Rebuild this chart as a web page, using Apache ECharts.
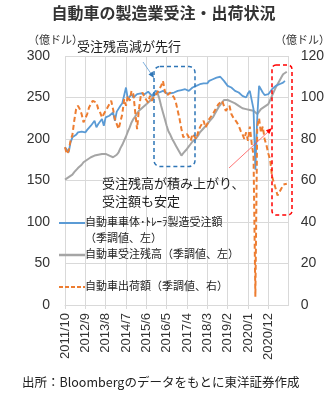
<!DOCTYPE html>
<html><head><meta charset="utf-8">
<script src="https://cdn.jsdelivr.net/npm/echarts@6/dist/echarts.min.js"></script>
<style>html,body{margin:0;padding:0;background:#fff}#c{width:327px;height:396px}</style>
</head><body><div id="c"></div>
<script>
// categories: monthly 2011/10 .. 2021/11
const startYear = 2011, startMonth = 10, monthCount = 122;
const categories = [];
for (let i = 0; i < monthCount; i++) {
  const t = startMonth - 1 + i;
  categories.push((startYear + Math.floor(t / 12)) + '/' + (t % 12 + 1));
}
const leftTicks = [0, 50, 100, 150, 200, 250, 300];
const rightTicks = [0, 20, 40, 60, 80, 100, 120];

// 自動車車体・トレーラ製造受注額 (億ドル, left)
const orders = [190,188,184,196,202,200,205,208,207,209,210,208,211,212,216,219,222,214,218,221,
224,216,226,225,228,230,232,222,233,234,240,243,244,262,248,250,254,250,251,254,
256,255,253,254,256,257,258,252,255,258,256,256,257,258,257,255,256,255,256,256,
257,258,258,259,260,260,259,258,260,262,263,264,265,266,265,267,268,267,270,271,
272,272,274,276,275,274,270,267,264,263,262,261,258,257,256,254,252,251,250,255,
258,260,236,163,225,264,260,256,253,252,254,257,260,262,264,265,266,268,268,270,null,null];

// 自動車受注残高 (億ドル, left)
const backlog = [151,152,154,155,157,160,162,165,167,169,172,173,175,177,178,179,180,180,181,182,
182,182,182,181,180,179,178,179,181,184,189,193,198,203,209,214,220,224,227,231,
234,236,238,240,242,244,246,249,252,254,256,249,240,232,224,216,209,205,200,196,
192,188,184,180,183,185,188,191,194,197,199,201,204,208,210,213,215,218,221,223,
226,230,234,238,241,244,247,248,247,246,245,244,243,241,240,238,237,236,236,236,
235,235,234,232,230,233,236,238,239,240,242,247,252,257,262,266,270,274,278,280,281,null];

// 自動車出荷額 (億ドル, right)
const shipments = [76,72.8,74.4,79.2,82,88.8,94.4,96,94.4,92,88,88.8,92,95.2,96.8,98.4,98,97.6,94.4,92.8,
90.4,92,91.2,95.2,96.8,98.4,94.4,89.6,87.2,84.8,84,92,99.2,96,100.8,98.4,103.2,101.6,92.8,84.8,
94.4,100.8,102.4,100,98.8,97.6,100.8,98.4,100,99.2,102.4,103.2,105.6,108,103.2,100.8,100,102.4,102,100,
97.6,93.6,89.6,84.8,80.8,80,82.4,80.8,79.2,82.4,81.6,80,83.2,85.6,87.2,88.8,85.6,87.2,89.6,88.8,
92,93.6,95.2,96.8,97.6,98.4,99.2,93.6,93.6,96,92,90.4,89.6,88,86.4,84,82.4,80,83.2,79.2,
86,78,72,4,86,90,83,86,80,77,73,70,62,59,56,52.8,54.4,56,58,57.6,58.4,null];

const jp = '"Noto Sans CJK JP", sans-serif';
const num = '"Liberation Sans", Arial, sans-serif';
const labelIdx = (i) => i % 11 === 0 && i <= 110;

const chart = echarts.init(document.getElementById('c'), null, {renderer: 'canvas'});
chart.setOption({
  animation: false,
  backgroundColor: '#fff',
  grid: {left: 65, right: 36, top: 56, bottom: 91, containLabel: false},
  xAxis: {
    type: 'category', data: categories, boundaryGap: false,
    axisLine: {show: true, lineStyle: {color: '#d9d9d9', width: 1}},
    axisTick: {show: true, interval: labelIdx, length: 4, lineStyle: {color: '#d9d9d9'}},
    axisLabel: {interval: labelIdx, rotate: 90, margin: 8, fontSize: 13, color: '#333', fontFamily: num},
    splitLine: {show: true, interval: (i) => i % 11 === 0, lineStyle: {color: '#d9d9d9', width: 1}}
  },
  yAxis: [
    {type: 'value', min: leftTicks[0], max: leftTicks[leftTicks.length - 1], interval: 50,
     axisLine: {show: false}, axisTick: {show: false},
     axisLabel: {fontSize: 14, color: '#333', margin: 15, fontFamily: num},
     splitLine: {show: true, lineStyle: {color: '#d9d9d9', width: 1}}},
    {type: 'value', min: rightTicks[0], max: rightTicks[rightTicks.length - 1], interval: 20,
     axisLine: {show: false}, axisTick: {show: false},
     axisLabel: {fontSize: 14, color: '#333', margin: 12, fontFamily: num},
     splitLine: {show: false}}
  ],
  series: [
    {name: '自動車車体･ﾄﾚｰﾗ製造受注額', type: 'line', data: orders, yAxisIndex: 0,
     showSymbol: false, symbol: 'none', lineStyle: {color: '#5b9bd5', width: 1.8}, z: 3},
    {name: '自動車受注残高', type: 'line', data: backlog, yAxisIndex: 0,
     showSymbol: false, symbol: 'none', lineStyle: {color: '#a5a5a5', width: 2}, z: 2},
    {name: '自動車出荷額', type: 'line', data: shipments, yAxisIndex: 1,
     showSymbol: false, symbol: 'none', lineStyle: {color: '#ed7d31', width: 2, type: [5, 3]}, z: 4}
  ],
  graphic: [
    {type: 'text', left: 'center', top: 5, style: {text: '自動車の製造業受注・出荷状況', font: 'bold 16px ' + jp, fill: '#333'}},
    {type: 'text', x: 28, y: 34, style: {text: '（億ドル）', font: '11px ' + jp, fill: '#333'}},
    {type: 'text', x: 275, y: 34, style: {text: '（億ドル）', font: '11px ' + jp, fill: '#333'}},
    {type: 'text', x: 77, y: 40, z: 10, style: {text: '受注残高減が先行', font: '13px ' + jp, fill: '#222'}},
    {type: 'text', x: 102, y: 174, z: 10, style: {text: '受注残高が積み上がり、\n受注額も安定', font: '13px ' + jp, fill: '#222', lineHeight: 18}},
    {type: 'rect', z: 10, shape: {x: 154, y: 66.5, width: 41, height: 100, r: 6},
     style: {fill: 'none', stroke: '#2e75b6', lineWidth: 1.5, lineDash: [4, 3]}},
    {type: 'rect', z: 10, shape: {x: 272, y: 65, width: 20, height: 150, r: 4},
     style: {fill: 'none', stroke: '#ff0000', lineWidth: 1.5, lineDash: [4, 3]}},
    {type: 'line', z: 10, shape: {x1: 143, y1: 62, x2: 152, y2: 75}, style: {stroke: '#5b9bd5', lineWidth: 0.8}},
    {type: 'polygon', z: 10, shape: {points: [[154, 78], [148.5, 74.5], [152.7, 71.6]]}, style: {fill: '#2e75b6'}},
    {type: 'line', z: 10, shape: {x1: 229, y1: 168, x2: 269, y2: 131}, style: {stroke: '#ff5050', lineWidth: 0.8}},
    {type: 'polygon', z: 10, shape: {points: [[272, 128], [269.3, 133.9], [265.9, 130.3]]}, style: {fill: '#ff0000'}},
    {type: 'line', z: 10, shape: {x1: 59, y1: 223, x2: 85, y2: 223}, style: {stroke: '#5b9bd5', lineWidth: 2}},
    {type: 'text', x: 85, y: 216, z: 10, style: {text: '自動車車体･ﾄﾚｰﾗ製造受注額', font: '11px ' + jp, fill: '#222'}},
    {type: 'text', x: 85, y: 232, z: 10, style: {text: '（季調値、左）', font: '11px ' + jp, fill: '#222'}},
    {type: 'line', z: 10, shape: {x1: 59, y1: 255, x2: 85, y2: 255}, style: {stroke: '#a5a5a5', lineWidth: 2.5}},
    {type: 'text', x: 85, y: 248, z: 10, style: {text: '自動車受注残高（季調値、左）', font: '11px ' + jp, fill: '#222'}},
    {type: 'line', z: 10, shape: {x1: 59, y1: 287, x2: 85, y2: 287}, style: {stroke: '#ed7d31', lineWidth: 2, lineDash: [4, 2]}},
    {type: 'text', x: 85, y: 280, z: 10, style: {text: '自動車出荷額（季調値、右）', font: '11px ' + jp, fill: '#222'}},
    {type: 'text', x: 22, y: 376, style: {text: '出所：Bloombergのデータをもとに東洋証券作成', font: '12.5px ' + jp, fill: '#222'}}
  ]
});
</script></body></html>
